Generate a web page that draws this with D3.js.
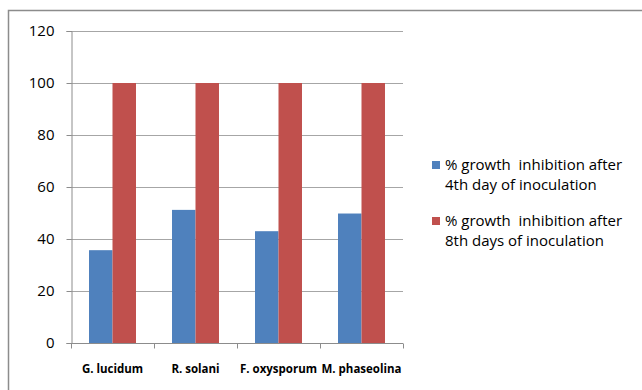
<!DOCTYPE html>
<meta charset="utf-8">
<script src="https://d3js.org/d3.v7.min.js"></script>
<style>
  body { margin: 0; background: #fff; }
  text { font-family: "Open Sans", Lato, sans-serif; }
</style>
<div id="my_dataviz"></div>
<script>

// data
var categories = ["G. lucidum", "R. solani", "F. oxysporum", "M. phaseolina"];
var day4 = [35.7, 51.2, 43, 49.8];
var day8 = [100, 100, 100, 100];
var seriesNames = [
  ["% growth  inhibition after", "4th day of inoculation"],
  ["% growth  inhibition after", "8th days of inoculation"]
];
var yTicks = [0, 20, 40, 60, 80, 100, 120];
var colors = ["#4f81bd", "#c0504d"];

var margin = {top: 31, left: 71},
    width = 332,
    height = 312;

var svg = d3.select("#my_dataviz")
  .append("svg")
    .attr("width", 642)
    .attr("height", 390);

// outer frame
svg.append("rect")
  .attr("x", 8.5).attr("y", 10.5)
  .attr("width", 640).attr("height", 400)
  .attr("fill", "none")
  .attr("stroke", "#8c8c8c")
  .attr("stroke-width", 1.5);

var g = svg.append("g")
  .attr("transform", "translate(" + margin.left + "," + margin.top + ")");

var x = d3.scaleBand()
  .domain(categories)
  .range([0, width])
  .paddingInner(0.434)
  .paddingOuter(0.217);

var y = d3.scaleLinear()
  .domain([0, 120])
  .range([height, 0]);

// gridlines
g.selectAll("grid")
  .data(yTicks.filter(function(d) { return d > 0; }))
  .enter()
  .append("line")
    .attr("x1", 0).attr("x2", width)
    .attr("y1", function(d) { return Math.round(y(d)) + 0.5; })
    .attr("y2", function(d) { return Math.round(y(d)) + 0.5; })
    .attr("stroke", "#a6a6a6");

// Y axis
var yAxis = g.append("g")
  .attr("transform", "translate(0.5,0)")
  .call(d3.axisLeft(y).tickValues(yTicks).tickSize(5).tickPadding(12));
yAxis.selectAll("text").style("font-size", "15px").attr("fill", "#000");
yAxis.selectAll("line, path").attr("stroke", "#8c8c8c");

// bars
var inner = d3.scaleBand()
  .domain([0, 1])
  .range([0, x.bandwidth()]);

var series = [day4, day8];
series.forEach(function(vals, si) {
  g.selectAll("bar" + si)
    .data(vals)
    .enter()
    .append("rect")
      .attr("x", function(d, i) { return x(categories[i]) + inner(si); })
      .attr("y", function(d) { return y(d); })
      .attr("width", inner.bandwidth())
      .attr("height", function(d) { return height - y(d); })
      .attr("fill", colors[si]);
});

// X axis with ticks at the category boundaries
var step = x.step();
var xAxis = g.append("g")
  .attr("transform", "translate(0," + (height + 0.5) + ")");
xAxis.append("line")
  .attr("x1", 0).attr("x2", width)
  .attr("stroke", "#8c8c8c");
xAxis.selectAll("xt")
  .data(d3.range(categories.length + 1))
  .enter()
  .append("line")
    .attr("x1", function(d) { return Math.round(d * step) + 0.5; })
    .attr("x2", function(d) { return Math.round(d * step) + 0.5; })
    .attr("y1", 0).attr("y2", 5)
    .attr("stroke", "#8c8c8c");
xAxis.selectAll("xl")
  .data(categories)
  .enter()
  .append("text")
    .attr("x", function(d) { return x(d) + x.bandwidth() / 2; })
    .attr("y", 29)
    .attr("text-anchor", "middle")
    .style("font-size", "11.5px")
    .style("font-weight", "bold")
    .text(function(d) { return d; });

// legend
var legend = svg.append("g");
seriesNames.forEach(function(lines, i) {
  var ly = 161 + i * 56;
  legend.append("rect")
    .attr("x", 432).attr("y", ly)
    .attr("width", 8).attr("height", 8)
    .attr("fill", colors[i]);
  lines.forEach(function(t, j) {
    legend.append("text")
      .attr("x", 445)
      .attr("y", ly + 9 + j * 20)
      .style("font-size", "15px")
      .attr("xml:space", "preserve")
      .text(t);
  });
});

</script>
